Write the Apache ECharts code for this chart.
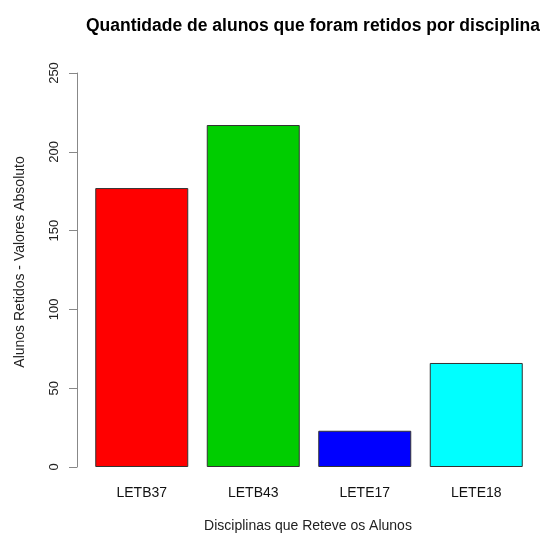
<!DOCTYPE html>
<html>
<head>
    <meta charset="utf-8">
    <title>Alunos retidos</title>
    <script src="https://cdn.jsdelivr.net/npm/echarts@6/dist/echarts.min.js"></script>
    <style>
        html, body { margin: 0; padding: 0; background: #fff; }
        #chart1 { width: 540px; height: 534px; }
    </style>
</head>
<body>
<div id="chart1"></div>
<script>
    // dados
    var disciplinas = ['LETB37', 'LETB43', 'LETE17', 'LETE18'];
    var retidos = [177, 217, 23, 66];
    var cores = ['#ff0000', '#00cd00', '#0000ff', '#00ffff'];

    var myChart1 = echarts.init(document.getElementById('chart1'));
    var fonte = '"Liberation Sans", Arial, sans-serif';

    myChart1.setOption({
        animation: false,
        title: {
            text: 'Quantidade de alunos que foram retidos por disciplina',
            left: 308,
            textAlign: 'center',
            top: 12,
            textStyle: { fontFamily: fonte, fontSize: 17.5, fontWeight: 'bold', color: '#000' }
        },
        grid: { left: 86, right: 8, top: 73, bottom: 67 },
        xAxis: {
            type: 'category',
            data: disciplinas,
            axisLine: { show: false },
            axisTick: { show: false },
            axisLabel: { margin: 19, fontFamily: fonte, fontSize: 14, color: '#111' }
        },
        yAxis: {
            type: 'value',
            min: 0,
            max: 250,
            interval: 50,
            offset: 9,
            splitLine: { show: false },
            axisLine: { show: true, lineStyle: { color: '#888', width: 1 } },
            axisTick: { show: true, length: 8, lineStyle: { color: '#888' } },
            axisLabel: { rotate: 90, margin: 16, fontFamily: fonte, fontSize: 13, color: '#222' }
        },
        graphic: [
            {
                type: 'text',
                x: 20, y: 262,
                rotation: Math.PI / 2,
                style: {
                    text: 'Alunos Retidos - Valores Absoluto',
                    fontFamily: fonte, fontSize: 14, fill: '#222',
                    align: 'center', verticalAlign: 'middle'
                }
            },
            {
                type: 'text',
                x: 308, y: 526,
                style: {
                    text: 'Disciplinas que Reteve os Alunos',
                    fontFamily: fonte, fontSize: 14, fill: '#222',
                    align: 'center', verticalAlign: 'middle'
                }
            }
        ],
        series: [{
            type: 'bar',
            barWidth: 93,
            data: retidos.map(function (v, i) {
                return { value: v, itemStyle: { color: cores[i] } };
            }),
            itemStyle: { borderColor: '#333', borderWidth: 1 }
        }]
    });
</script>
</body>
</html>
